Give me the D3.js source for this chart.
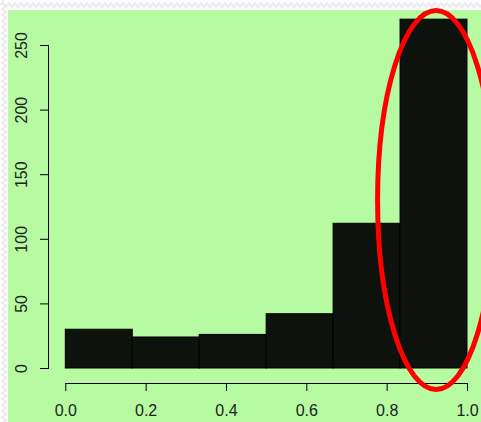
<!DOCTYPE html>
<html>
<head>
<meta charset="utf-8">
<script src="https://cdn.jsdelivr.net/npm/d3@7"></script>
<style>
  html, body { margin: 0; padding: 0; background: #ffffff; }
  svg { display: block; }
  text { font-family: "Liberation Sans", Arial, sans-serif; }
</style>
</head>
<body>
<div id="chart"></div>
<script>
!(function () {
  'use strict';
  // data
  const breaks = [0, 1 / 6, 2 / 6, 3 / 6, 4 / 6, 5 / 6, 1];
  const counts = [30, 24, 26, 42, 112, 270];
  const xTicks = [0, 0.2, 0.4, 0.6, 0.8, 1.0];
  const yTicks = [0, 50, 100, 150, 200, 250];
  // highlight ring around the last bin (data units)
  const ring = { cx: 0.923, cy: 130, rx: 0.1456, ry: 146.7 };

  const width = 481, height = 422;
  const fontSize = '16px';

  const svg = d3.select('#chart').append('svg')
    .attr('width', width)
    .attr('height', height);

  // faint torn-edge zigzag along top and left
  let top = 'M0,5';
  for (let i = 0; i <= width; i += 6) top += 'L' + (i + 3) + ',3L' + (i + 6) + ',7';
  let left = 'M4,0';
  for (let j = 0; j <= height; j += 6) left += 'L2,' + (j + 3) + 'L6,' + (j + 6);
  svg.append('path').attr('d', top).attr('fill', 'none').attr('stroke', '#ececec').attr('stroke-width', 2);
  svg.append('path').attr('d', left).attr('fill', 'none').attr('stroke', '#ececec').attr('stroke-width', 2);

  // panel background
  svg.append('rect')
    .attr('x', 8).attr('y', 10)
    .attr('width', width - 8).attr('height', height - 10)
    .attr('fill', '#b6fba1');

  const x = d3.scaleLinear().domain([0, 1]).range([65.3, 467]);
  const y = d3.scaleLinear().domain([0, 250]).range([368, 45]);

  // bars
  svg.append('g').selectAll('rect')
    .data(counts)
    .enter()
    .append('rect')
    .attr('x', (d, i) => x(breaks[i]))
    .attr('y', d => y(d))
    .attr('width', (d, i) => x(breaks[i + 1]) - x(breaks[i]))
    .attr('height', d => y(0) - y(d))
    .attr('fill', '#0e120c')
    .attr('stroke', '#000')
    .attr('stroke-width', 1);

  // x axis
  const xAxis = svg.append('g')
    .attr('transform', 'translate(0,383)')
    .call(d3.axisBottom(x).tickValues(xTicks).tickFormat(d3.format('.1f'))
      .tickSize(8).tickSizeOuter(0).tickPadding(14));
  xAxis.select('.domain').attr('stroke', '#000').attr('d', 'M' + x(0) + ',0.5H' + x(1));
  xAxis.selectAll('text').style('font-size', fontSize).attr('fill', '#222')
    .style('font-family', '"Liberation Sans", Arial, sans-serif');

  // y axis
  const yAxis = svg.append('g')
    .attr('transform', 'translate(49,0)')
    .call(d3.axisLeft(y).tickValues(yTicks).tickSize(9).tickSizeOuter(0).tickFormat(d3.format('d')));
  yAxis.select('.domain').attr('stroke', '#000').attr('d', 'M-0.5,' + y(0) + 'V' + y(250));
  yAxis.selectAll('.tick text')
    .style('font-size', fontSize).attr('fill', '#222')
    .style('font-family', '"Liberation Sans", Arial, sans-serif')
    .attr('x', null).attr('dy', null)
    .attr('text-anchor', 'middle')
    .attr('dominant-baseline', 'central')
    .attr('transform', 'translate(-28,0) rotate(-90)');

  // red ring
  svg.append('ellipse')
    .attr('cx', x(ring.cx))
    .attr('cy', y(ring.cy))
    .attr('rx', x(ring.rx) - x(0))
    .attr('ry', y(0) - y(ring.ry))
    .attr('fill', 'none')
    .attr('stroke', '#ff0000')
    .attr('stroke-width', 5);
}());
</script>
</body>
</html>
